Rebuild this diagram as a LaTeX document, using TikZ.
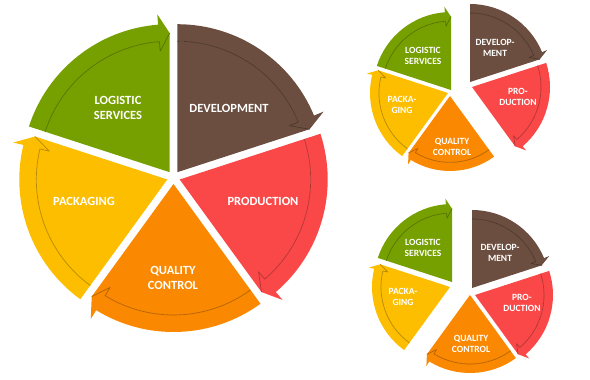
\documentclass[tikz,border=0pt]{standalone}
\usepackage{fontspec}
\setmainfont{Carlito}
\usepackage{tikz}
\usetikzlibrary{positioning}
\definecolor{cycgreen}{RGB}{118,160,0}
\definecolor{cycbrown}{RGB}{107,78,64}
\definecolor{cycred}{RGB}{250,72,72}
\definecolor{cycorange}{RGB}{250,136,0}
\definecolor{cycyellow}{RGB}{253,190,0}
\tikzset{
  seglabel/.style={text=white, align=center, inner sep=0pt, font=\fontsize{12.5}{15}\selectfont\bfseries},
  seglabelsm/.style={seglabel, font=\fontsize{9.5}{11}\selectfont\bfseries},
  bandline/.style={draw=#1!72!black, line width=0.7pt, line join=round},
}
% #1 apex, #2 start angle, #3 end angle (clockwise), #4 radius, #5 colour
\newcommand{\cyclepart}[5]{%
  \pgfmathsetmacro{\rin}{0.885*#4}
  \pgfmathsetmacro{\rmid}{0.94*#4}
  \pgfmathsetmacro{\rhi}{1.07*#4}
  \pgfmathsetmacro{\rlo}{0.82*#4}
  \pgfmathsetmacro{\ah}{#3+4.5}
  \begin{scope}[shift={(#1)}]
    \fill[#5] (0,0) -- (#2:\rin) arc[start angle=#2, end angle=\ah, radius=\rin] -- (#3:\rmid) -- cycle;
    \fill[#5] (#2:\rin) arc[start angle=#2, end angle=\ah, radius=\rin] -- (\ah:\rlo) -- (#3:\rmid) -- (\ah:\rhi) -- (\ah:#4) arc[start angle=\ah, end angle=#2, radius=#4] -- cycle;
    \draw[bandline=#5] (#2:\rin) arc[start angle=#2, end angle=\ah, radius=\rin] -- (\ah:\rlo) -- (#3:\rmid);
  \end{scope}
}

\begin{document}
\begin{tikzpicture}[x=1pt, y=1pt]
  \useasboundingbox (0,0) rectangle (590,380);
  % large cycle
  \cyclepart{169.7,207.8}{162}{90}{148}{cycgreen}
  \cyclepart{177.3,207.8}{90}{18}{148}{cycbrown}
  \cyclepart{179.7,200.5}{18}{-54}{148}{cycred}
  \cyclepart{173.5,196}{306}{234}{148}{cycorange}
  \cyclepart{167.3,200.5}{234}{162}{148}{cycyellow}
  \node[seglabel] (logiBig) at (118,272) {LOGISTIC\\SERVICES};
  \node[seglabel] (devBig) at (229,272) {DEVELOPMENT};
  \node[seglabel] (prodBig) at (263,179) {PRODUCTION};
  \node[seglabel] (qualBig) at (173,102) {QUALITY\\CONTROL};
  \node[seglabel] (packBig) at (84,179) {PACKAGING};

  % small cycle, top
  \cyclepart{451,290}{162}{90}{78}{cycgreen}
  \cyclepart{470,298}{90}{18}{78}{cycbrown}
  \cyclepart{472,293}{18}{-54}{78}{cycred}
  \cyclepart{450,284}{306}{234}{75}{cycorange}
  \cyclepart{448,287}{234}{162}{78}{cycyellow}
  \node[seglabelsm] (logiTop) at (423,324) {LOGISTIC\\SERVICES};
  \node[seglabelsm] (devTop) at (495,332) {DEVELOP-\\MENT};
  \node[seglabelsm] (prodTop) at (518,283) {PRO-\\DUCTION};
  \node[seglabelsm] (qualTop) at (452,233) {QUALITY\\CONTROL};
  \node[seglabelsm] (packTop) at (402,275) {PACKA-\\GING};

  % small cycle, bottom
  \cyclepart{452,98}{162}{90}{78}{cycgreen}
  \cyclepart{472,92}{90}{18}{78}{cycbrown}
  \cyclepart{475,85}{18}{-54}{78}{cycred}
  \cyclepart{470,85}{306}{234}{78}{cycorange}
  \cyclepart{450,93}{234}{162}{78}{cycyellow}
  \node[seglabelsm] (logiBot) at (423,132) {LOGISTIC\\SERVICES};
  \node[seglabelsm] (devBot) at (500,127) {DEVELOP-\\MENT};
  \node[seglabelsm] (prodBot) at (522,77) {PRO-\\DUCTION};
  \node[seglabelsm] (qualBot) at (471,36) {QUALITY\\CONTROL};
  \node[seglabelsm] (packBot) at (403,83) {PACKA-\\GING};
\end{tikzpicture}
\end{document}
